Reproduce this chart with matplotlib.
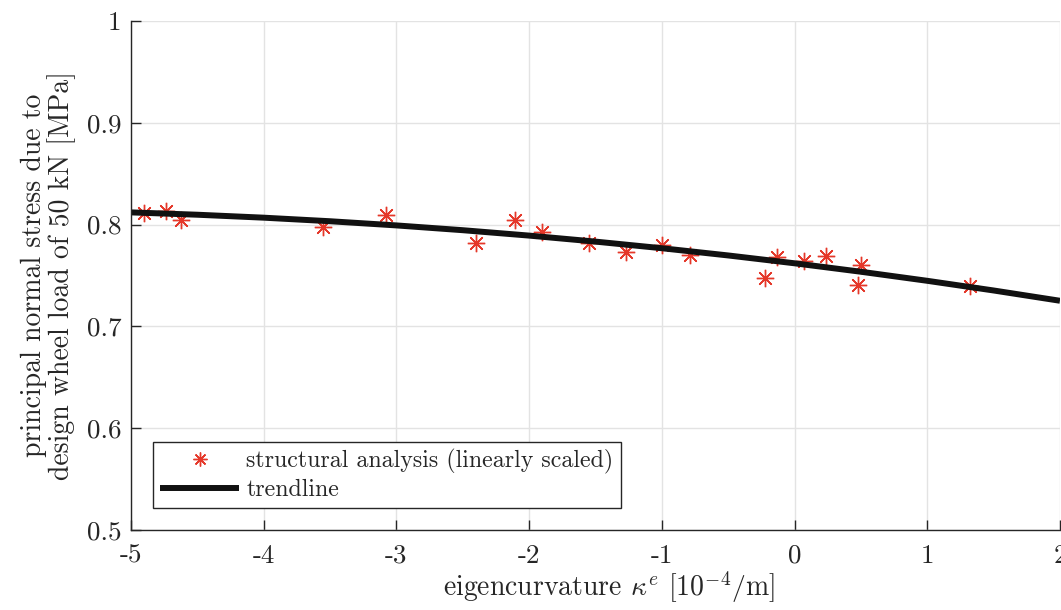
import matplotlib
matplotlib.use('Agg')
import matplotlib.pyplot as plt

# structural analysis results (linearly scaled)
kappa = [-4.90, -4.74, -4.62, -3.55, -3.08, -2.40, -2.11, -1.90, -1.55, -1.27,
         -1.00, -0.79, -0.22, -0.13, 0.07, 0.24, 0.48, 0.50, 1.32]
stress = [0.811, 0.813, 0.805, 0.798, 0.809, 0.782, 0.805, 0.793, 0.782, 0.773,
          0.780, 0.770, 0.748, 0.768, 0.764, 0.769, 0.741, 0.760, 0.740]

# trendline
trend_x = [-5, -4.5, -4, -3.5, -3, -2.5, -2, -1.5, -1, -0.5, 0, 0.5, 1, 1.5, 2]
trend_y = [0.812, 0.8097, 0.8068, 0.8033, 0.7992, 0.7945, 0.7892, 0.7833,
           0.7768, 0.7697, 0.762, 0.7537, 0.7448, 0.7353, 0.7252]

xticks = [-5, -4, -3, -2, -1, 0, 1, 2]
yticks = [0.5, 0.6, 0.7, 0.8, 0.9, 1.0]
ytick_labels = ['0.5', '0.6', '0.7', '0.8', '0.9', '1']

plt.rcParams['font.family'] = ['cmr10', 'DejaVu Serif']
plt.rcParams['mathtext.fontset'] = 'cm'
plt.rcParams['axes.unicode_minus'] = False

fig = plt.figure(figsize=(10.61, 6.10), dpi=100)
ax = fig.add_axes([0.1235, 0.1311, 0.8755, 0.8345])

gray = '#262626'
red = '#e5382a'

ax.plot(kappa, stress, linestyle='none', marker=(8, 2, 0), markersize=12.5,
        markeredgewidth=1.0, color=red, label='structural analysis (linearly scaled)')
ax.plot(trend_x, trend_y, color='#111111', linewidth=4.3, label='trendline',
        solid_capstyle='butt')

ax.set_xlim(-5, 2)
ax.set_ylim(0.5, 1)
ax.set_xticks(xticks)
ax.set_xticklabels([str(t) for t in xticks])
ax.set_yticks(yticks)
ax.set_yticklabels(ytick_labels)

ax.grid(True, color='#e3e3e3', linewidth=1.0)
ax.set_axisbelow(True)
for s in ['top', 'right']:
    ax.spines[s].set_visible(False)
for s in ['left', 'bottom']:
    ax.spines[s].set_color(gray)
    ax.spines[s].set_linewidth(1.0)
ax.tick_params(direction='in', length=7, width=1.0, colors=gray, labelsize=19.5)
ax.tick_params(axis='x', pad=10)
ax.tick_params(axis='y', pad=7)

ax.set_xlabel(r'eigencurvature $\kappa^e$ $[10^{-4}/\mathrm{m}]$', fontsize=20,
              color=gray)
ax.xaxis.set_label_coords(0.5145, -0.078)
ax.set_ylabel('principal normal stress due to\ndesign wheel load of 50 kN [MPa]',
              fontsize=20, color=gray, labelpad=8, linespacing=1.0)

leg = ax.legend(loc='lower left', bbox_to_anchor=(0.0237, 0.0432), borderaxespad=0,
                fontsize=17.2, frameon=True, fancybox=False, framealpha=1,
                edgecolor=gray, handlelength=3.3, handletextpad=0.3,
                borderpad=0.3, labelspacing=0.2, markerscale=0.8)
leg.get_frame().set_linewidth(1.0)
for t in leg.get_texts():
    t.set_color(gray)

fig.savefig('out.png', dpi=100)
